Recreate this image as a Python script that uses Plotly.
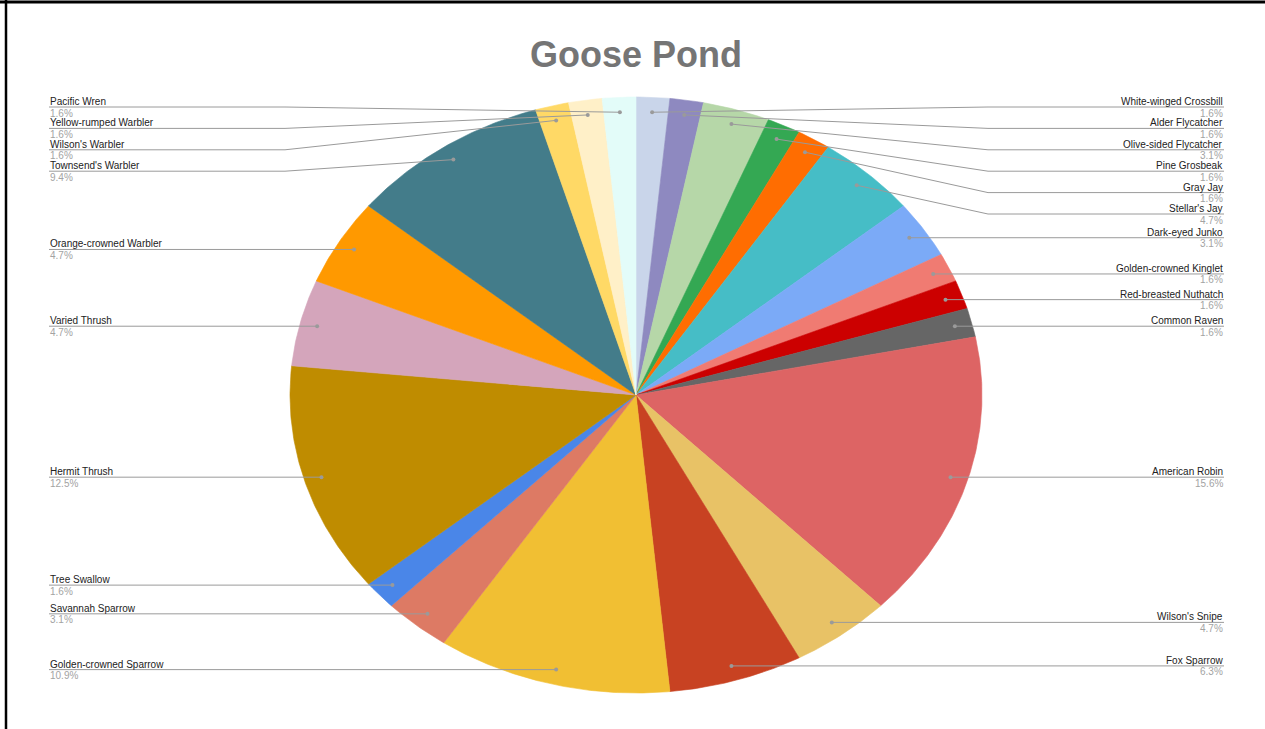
import numpy as np
import plotly.graph_objects as go
from decimal import Decimal, ROUND_HALF_UP

# Bird sightings at Goose Pond, clockwise from 12 o'clock
species = [
    "White-winged Crossbill", "Alder Flycatcher", "Olive-sided Flycatcher",
    "Pine Grosbeak", "Gray Jay", "Stellar's Jay", "Dark-eyed Junko",
    "Golden-crowned Kinglet", "Red-breasted Nuthatch", "Common Raven",
    "American Robin", "Wilson's Snipe", "Fox Sparrow", "Golden-crowned Sparrow",
    "Savannah Sparrow", "Tree Swallow", "Hermit Thrush", "Varied Thrush",
    "Orange-crowned Warbler", "Townsend's Warbler", "Wilson's Warbler",
    "Yellow-rumped Warbler", "Pacific Wren",
]
counts = [1, 1, 2, 1, 1, 3, 2, 1, 1, 1, 10, 3, 4, 7, 2, 1, 8, 3, 3, 6, 1, 1, 1]
colors = [
    "#c9d5ea", "#8e89c0", "#b6d7a8", "#34a853", "#ff6d01", "#46bdc6",
    "#7baaf7", "#f07b72", "#cc0000", "#666666", "#dd6464", "#e8c266",
    "#c84222", "#f1bf33", "#dd7a64", "#4a86e8", "#bf8c00", "#d4a5bb",
    "#ff9900", "#437c8a", "#ffd966", "#fff0c8", "#e3fcf9",
]

TITLE = "Goose Pond"

# Layout geometry (pixels; the axes are set up 1:1 with the page)
W, H = 1265, 729
CX, CY = 636, 395          # pie centre
RX, RY = 346, 298          # horizontal / vertical radii
ANCHOR_R = 0.95            # where leader lines meet each slice
LEFT_X, RIGHT_X = 49, 1224 # outer ends of the label rules
BEND_PAD_L, BEND_PAD_R = 5, 6
LABEL_GAP = 21.4
LABEL_TOP = 107
FONT = "Arial, Liberation Sans, sans-serif"
LABEL_SIZE = 10

total = sum(counts)


def pct(c):
    v = (Decimal(c) * 100 / Decimal(total)).quantize(Decimal("0.1"), rounding=ROUND_HALF_UP)
    return f"{v}%"


def point(theta, r):
    """Clockwise angle from 12 o'clock (radians) -> page coordinates."""
    return CX + RX * r * np.sin(theta), CY - RY * r * np.cos(theta)


def spread(desired, gap, top):
    """Push overlapping labels apart, keeping each group centred on its anchors."""
    clusters = []

    def start_of(c):
        return max(top, float(np.mean([v - k * gap for k, v in enumerate(c)])))

    for d in desired:
        clusters.append([d])
        while len(clusters) > 1:
            prev, cur = clusters[-2], clusters[-1]
            if start_of(prev) + len(prev) * gap > start_of(cur):
                clusters[-2] = prev + cur
                clusters.pop()
            else:
                break
    out = []
    for c in clusters:
        s = start_of(c)
        out += [s + k * gap for k in range(len(c))]
    return out


fig = go.Figure()

# Slices
cum = np.concatenate([[0], np.cumsum(counts)]) / total * 2 * np.pi
mids = []
for i, name in enumerate(species):
    a0, a1 = cum[i], cum[i + 1]
    t = np.linspace(a0, a1, max(8, int((a1 - a0) * 120)))
    xs, ys = point(t, 1.0)
    xs = np.concatenate([[CX], xs, [CX]])
    ys = np.concatenate([[CY], ys, [CY]])
    fig.add_trace(go.Scatter(
        x=xs, y=ys, mode="lines", fill="toself", fillcolor=colors[i],
        line=dict(color=colors[i], width=0.6), name=name,
        hoverinfo="text", text=f"{name}: {counts[i]} ({pct(counts[i])})",
        showlegend=False,
    ))
    mids.append((a0 + a1) / 2)

# Label placement on each side
anchors = [point(m, ANCHOR_R) for m in mids]
right_idx = [i for i, m in enumerate(mids) if m < np.pi]
left_idx = [i for i, m in enumerate(mids) if m >= np.pi]

label_y = {}
for idx in (right_idx, left_idx):
    order = sorted(idx, key=lambda i: anchors[i][1])
    ys = spread([anchors[i][1] for i in order], LABEL_GAP, LABEL_TOP)
    for i, y in zip(order, ys):
        label_y[i] = y

lx, ly = [], []
annotations = []
for i in range(len(species)):
    ax, ay = anchors[i]
    y = label_y[i]
    if i in right_idx:
        bend = CX + RX + BEND_PAD_R
        end, anchor = RIGHT_X, "right"
    else:
        bend = CX - RX - BEND_PAD_L
        end, anchor = LEFT_X, "left"
    lx += [ax, bend, end, None]
    ly += [ay, y, y, None]
    annotations.append(dict(
        x=end, y=y - 5.5, xref="x", yref="y", text=species[i], showarrow=False,
        xanchor=anchor, yanchor="middle", borderpad=0,
        font=dict(family=FONT, size=LABEL_SIZE, color="#222222"),
    ))
    annotations.append(dict(
        x=end, y=y + 6, xref="x", yref="y", text=pct(counts[i]), showarrow=False,
        xanchor=anchor, yanchor="middle", borderpad=0,
        font=dict(family=FONT, size=LABEL_SIZE, color="#a3a3a3"),
    ))

fig.add_trace(go.Scatter(
    x=lx, y=ly, mode="lines", line=dict(color="#9a9a9a", width=1),
    hoverinfo="skip", showlegend=False,
))
fig.add_trace(go.Scatter(
    x=[a[0] for a in anchors], y=[a[1] for a in anchors], mode="markers",
    marker=dict(color="#9a9a9a", size=4), hoverinfo="skip", showlegend=False,
))

annotations.append(dict(
    x=CX, y=54, xref="x", yref="y", text=f"<b>{TITLE}</b>", showarrow=False,
    xanchor="center", yanchor="middle",
    font=dict(family=FONT, size=36, color="#757575"),
))

fig.update_layout(
    width=W, height=H, autosize=False,
    margin=dict(l=0, r=0, t=0, b=0),
    paper_bgcolor="white", plot_bgcolor="white",
    xaxis=dict(range=[0, W], visible=False, fixedrange=True),
    yaxis=dict(range=[H, 0], visible=False, fixedrange=True),
    annotations=annotations,
    shapes=[
        dict(type="line", xref="x", yref="y", x0=0, x1=W, y0=2, y1=2,
             line=dict(color="black", width=3)),
        dict(type="line", xref="x", yref="y", x0=6, x1=6, y0=0, y1=H,
             line=dict(color="black", width=2.5)),
    ],
)

fig.write_html("out.html")
